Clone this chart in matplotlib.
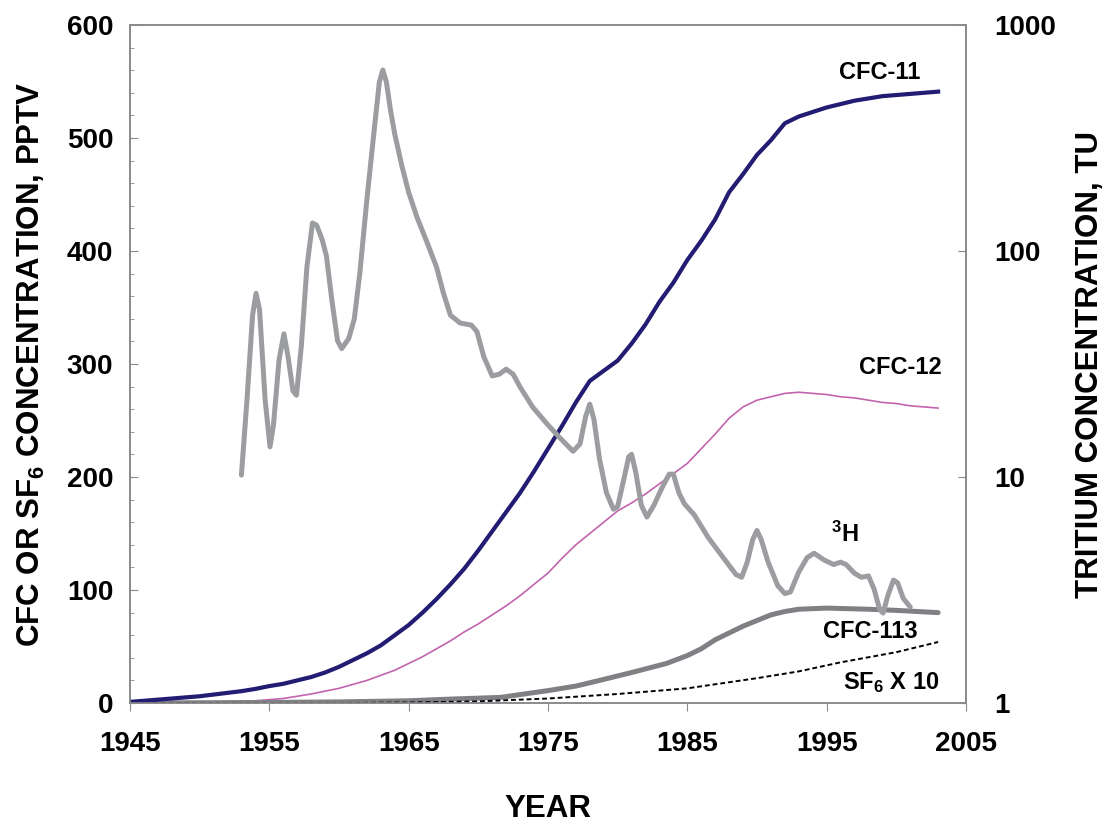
import matplotlib
matplotlib.use("Agg")
import matplotlib.pyplot as plt
from matplotlib.ticker import MultipleLocator, FixedLocator, NullLocator

# atmospheric mixing ratios, pptv
cfc11_year = [1945, 1946, 1947, 1948, 1949, 1950, 1951, 1952, 1953, 1954, 1955, 1956,
              1957, 1958, 1959, 1960, 1961, 1962, 1963, 1964, 1965, 1966, 1967, 1968,
              1969, 1970, 1971, 1972, 1973, 1974, 1975, 1976, 1977, 1978, 1979, 1980,
              1981, 1982, 1983, 1984, 1985, 1986, 1987, 1988, 1989, 1990, 1991, 1992,
              1993, 1994, 1995, 1996, 1997, 1998, 1999, 2000, 2001, 2002, 2003]
cfc11 = [1, 2, 3, 4, 5, 6, 7.5, 9, 10.5, 12.5, 15, 17,
         20, 23, 27, 32, 38, 44, 51, 60, 69, 80, 92, 105,
         119, 135, 152, 169, 186, 205, 225, 245, 266, 285, 294, 303,
         318, 335, 355, 372, 392, 409, 428, 452, 468, 485, 498, 513,
         519, 523, 527, 530, 533, 535, 537, 538, 539, 540, 541]

cfc12_year = [1945, 1948, 1951, 1954, 1956, 1958, 1960, 1962, 1964, 1965, 1966, 1967,
              1968, 1969, 1970, 1971, 1972, 1973, 1974, 1975, 1976, 1977, 1978, 1979,
              1980, 1981, 1982, 1983, 1984, 1985, 1986, 1987, 1988, 1989, 1990, 1991,
              1992, 1993, 1994, 1995, 1996, 1997, 1998, 1999, 2000, 2001, 2002, 2003]
cfc12 = [0, 0.3, 0.8, 2, 4, 8, 13, 20, 29, 35, 41, 48,
         55, 63, 70, 78, 86, 95, 105, 115, 128, 140, 150, 160,
         170, 177, 185, 194, 203, 212, 225, 238, 252, 262, 268, 271,
         274, 275, 274, 273, 271, 270, 268, 266, 265, 263, 262, 261]

cfc113_year = [1945, 1955, 1960, 1965, 1968, 1971.6, 1975, 1977, 1978.7, 1981, 1983.5,
               1985, 1986, 1987, 1988, 1989, 1990, 1991, 1992, 1993, 1995, 1998, 2000,
               2003]
cfc113 = [0, 0.5, 1, 2, 3.5, 5, 11, 15, 20, 27, 35,
          42, 48, 56, 62, 68, 73, 78, 81, 83, 84, 83, 82,
          80]

# SF6 plotted ten times its value
sf6_year = [1945, 1960, 1965, 1970, 1975, 1980, 1985, 1990, 1993, 1996, 2000, 2003]
sf6_x10 = [0, 0, 0.5, 1.5, 4, 8, 13, 22, 28, 36, 45, 54]

# tritium in precipitation, TU
h3_year = [1953.0, 1953.4, 1953.8, 1954.05, 1954.3, 1954.7, 1955.05, 1955.3, 1955.7,
           1956.05, 1956.35, 1956.7, 1956.95, 1957.3, 1957.7, 1958.1, 1958.4, 1958.8,
           1959.1, 1959.5, 1959.9, 1960.2, 1960.7, 1961.1, 1961.5, 1962.0, 1962.5,
           1962.9, 1963.15, 1963.4, 1963.7, 1964.0, 1964.5, 1965.0, 1965.6, 1966.3,
           1967.0, 1967.5, 1968.0, 1968.7, 1969.5, 1969.9, 1970.4, 1971.0, 1971.5,
           1972.0, 1972.5, 1973.0, 1973.9, 1975.0, 1975.9, 1976.8, 1977.3, 1977.7,
           1978.0, 1978.3, 1978.7, 1979.2, 1979.7, 1980.0, 1980.4, 1980.8, 1981.0,
           1981.3, 1981.7, 1982.1, 1982.6, 1983.2, 1983.7, 1984.0, 1984.4, 1984.8,
           1985.5, 1986.5, 1987.7, 1988.5, 1988.9, 1989.3, 1989.7, 1990.0, 1990.3,
           1990.8, 1991.5, 1992.0, 1992.4, 1993.0, 1993.6, 1994.1, 1994.8, 1995.5,
           1996.0, 1996.4, 1997.0, 1997.5, 1998.0, 1998.4, 1998.8, 1999.05, 1999.4,
           1999.8, 2000.1, 2000.5, 2001.0]
h3 = [10.2, 22, 52, 65, 55, 22, 13.6, 17, 33,
      43, 34, 24, 23, 38, 85, 133, 130, 112,
      95, 60, 40, 37, 41, 50, 80, 168, 330,
      560, 632, 560, 420, 330, 240, 182, 141, 110,
      85, 65, 52, 48, 47, 44, 34, 28, 28.5,
      30, 28.5, 25, 20.4, 17, 14.8, 13, 14, 18.5,
      21, 18, 12, 8.5, 7.2, 7.4, 9.5, 12.3, 12.6,
      10.5, 7.5, 6.65, 7.5, 9, 10.3, 10.3, 8.5, 7.6,
      6.8, 5.4, 4.3, 3.7, 3.6, 4.2, 5.3, 5.8, 5.3,
      4.2, 3.3, 3.05, 3.1, 3.8, 4.4, 4.6, 4.3, 4.1,
      4.2, 4.1, 3.75, 3.6, 3.65, 3.2, 2.6, 2.5, 3.0,
      3.5, 3.4, 2.9, 2.66]

x_ticks = [1945, 1955, 1965, 1975, 1985, 1995, 2005]

plt.rcParams['mathtext.fontset'] = 'custom'
plt.rcParams['mathtext.rm'] = 'Liberation Sans:bold'
plt.rcParams['mathtext.bf'] = 'Liberation Sans:bold'

font = ['Liberation Sans', 'DejaVu Sans']
spine_col = '#8a8a8a'

fig = plt.figure(figsize=(11.06, 8.24), dpi=100)
ax = fig.add_axes([0.1175, 0.1468, 0.7559, 0.8229])
ax2 = ax.twinx()

ax.plot(cfc11_year, cfc11, color='#221c72', lw=3.0, solid_joinstyle='round', zorder=4)
ax.plot(cfc12_year, cfc12, color='#c264ad', lw=1.2, zorder=3)
ax.plot(cfc113_year, cfc113, color='#7f8084', lw=3.6, solid_capstyle='round', zorder=3)
ax.plot(sf6_year, sf6_x10, color='black', lw=1.4, ls=(0, (2.5, 1.5)), zorder=3)

ax2.plot(h3_year, h3, color='#9b9da1', lw=3.6, solid_joinstyle='round',
         solid_capstyle='round')

ax.set_xlim(1945, 2005)
ax.set_ylim(0, 600)
ax2.set_yscale('log')
ax2.set_ylim(1, 1000)

ax.xaxis.set_major_locator(FixedLocator(x_ticks))
ax.yaxis.set_major_locator(MultipleLocator(100))
ax.yaxis.set_minor_locator(MultipleLocator(20))
ax2.yaxis.set_major_locator(FixedLocator([1, 10, 100, 1000]))
ax2.yaxis.set_minor_locator(NullLocator())
ax2.yaxis.set_major_formatter(plt.FuncFormatter(lambda v, p: '%d' % v))

for a in (ax, ax2):
    for s in a.spines.values():
        s.set_color(spine_col)
        s.set_linewidth(1.2)
ax.tick_params(axis='y', which='major', direction='in', length=6, color=spine_col,
               pad=12, labelsize=20)
ax.tick_params(axis='y', which='minor', direction='in', length=3, color=spine_col)
ax.tick_params(axis='x', direction='out', length=6, color=spine_col, pad=14,
               labelsize=20)
ax2.tick_params(axis='y', direction='in', length=6, color=spine_col, pad=20,
                labelsize=20)
for lab in ax.get_yticklabels() + ax2.get_yticklabels() + ax.get_xticklabels():
    lab.set_family(font)
    lab.set_fontweight('bold')

ax.set_xlabel('YEAR', family=font, fontweight='bold', fontsize=22.5, labelpad=27)
ax.set_ylabel(r'CFC OR $\mathrm{SF_6}$ CONCENTRATION, PPTV', family=font,
              fontweight='bold', fontsize=22.5, labelpad=14)
ax2.set_ylabel('TRITIUM CONCENTRATION, TU', family=font, fontweight='bold',
               fontsize=22.5, labelpad=14)

lab_kw = dict(family=font, fontweight='bold', fontsize=17, ha='center',
              va='center')
ax.text(1998.8, 558, 'CFC-11', **lab_kw)
ax.text(2000.3, 297, 'CFC-12', **lab_kw)
ax.text(1996.3, 149, r'$\mathrm{^3H}$', **lab_kw)
ax.text(1998.1, 63, 'CFC-113', **lab_kw)
ax.text(1999.6, 18, r'$\mathrm{SF_6}$ X 10', **lab_kw)

fig.savefig('out.png', dpi=100)
